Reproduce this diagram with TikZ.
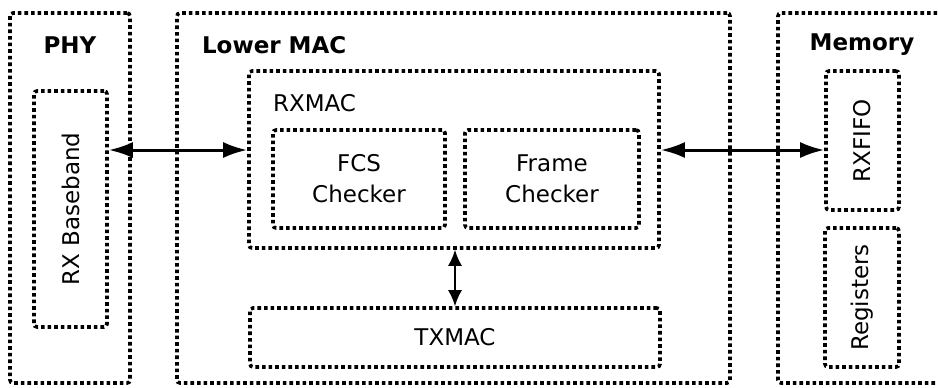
\documentclass[tikz,border=0pt]{standalone}
\usepackage{fontspec}
\setmainfont{DejaVu Sans}
\usetikzlibrary{arrows.meta}

\begin{document}
\begin{tikzpicture}[x=0.5pt,y=-0.5pt,
  dotbox/.style={draw, line width=1.8pt, dash pattern=on 1.8pt off 1.5pt, rounded corners=1.5pt, inner sep=0pt},
  title/.style={font=\fontsize{11.5}{13}\selectfont\bfseries},
  lbl/.style={font=\fontsize{11.5}{15.5}\selectfont, align=center},
  bus/.style={line width=1.5pt, {Latex[length=12pt,width=8pt]}-{Latex[length=12pt,width=8pt]}},
  link/.style={line width=0.9pt, {Latex[length=8pt,width=7pt]}-{Latex[length=8pt,width=7pt]}}]
  \useasboundingbox (0,0) rectangle (938,387);
  \clip (0,0) rectangle (938,387);
  % outer blocks
  \node[dotbox, minimum width=60pt, minimum height=185pt] (phy) at (70,198) {};
  \node[dotbox, minimum width=276.5pt, minimum height=185pt] (mac) at (453.5,198) {};
  \node[dotbox, minimum width=91pt, minimum height=185pt] (mem) at (869,198) {};
  \node[title] (phylbl) at (70,45) {PHY};
  \node[title, anchor=west] (maclbl) at (195,45) {Lower MAC};
  \node[title] (memlbl) at (862,45) {Memory};
  % PHY
  \node[dotbox, minimum width=36.5pt, minimum height=118pt] (rxbb) at (70.5,209) {};
  \node[lbl, rotate=90] (rxbblbl) at (rxbb) {RX Baseband};
  % lower MAC
  \node[dotbox, minimum width=205pt, minimum height=88.5pt] (rxmac) at (454,159.5) {};
  \node[lbl, anchor=west] (rxmaclbl) at (266,103) {RXMAC};
  \node[dotbox, lbl, minimum width=86pt, minimum height=49pt] (fcs) at (359,179) {FCS\\Checker};
  \node[dotbox, lbl, minimum width=87pt, minimum height=49pt] (frame) at (552,179) {Frame\\Checker};
  \node[dotbox, lbl, minimum width=205pt, minimum height=29.5pt] (txmac) at (455,337.5) {TXMAC};
  % memory
  \node[dotbox, minimum width=36.5pt, minimum height=69.5pt] (rxfifo) at (862.5,140.5) {};
  \node[lbl, rotate=90] (rxfifolbl) at (rxfifo) {RXFIFO};
  \node[dotbox, minimum width=37pt, minimum height=69.5pt] (regs) at (862,297.5) {};
  \node[lbl, rotate=90] (regslbl) at (regs) {Registers};
  % connections
  \coordinate (busy) at (0,150);
  \draw[bus] (rxbb.east |- busy) -- (rxmac.west |- busy);
  \draw[bus] (rxmac.east |- busy) -- (rxfifo.west |- busy);
  \draw[link] (txmac.north |- rxmac.south) -- (txmac.north);
\end{tikzpicture}
\end{document}
